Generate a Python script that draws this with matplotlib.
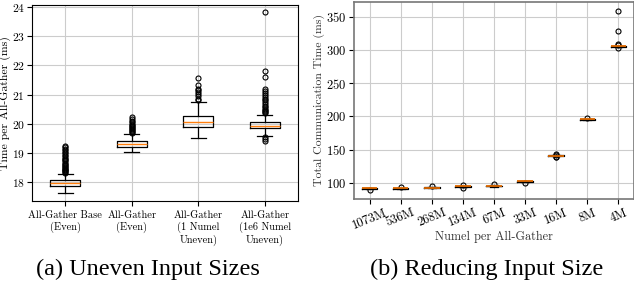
import matplotlib
matplotlib.use("Agg")
import matplotlib.pyplot as plt

plt.rcParams['font.family'] = ['cmr10', 'DejaVu Serif']
plt.rcParams['axes.formatter.use_mathtext'] = True
plt.rcParams['mathtext.fontset'] = 'cm'

# ---- Panel (a): Uneven input sizes ----
a_labels = ["All-Gather Base\n(Even)", "All-Gather\n(Even)",
            "All-Gather\n(1 Numel\nUneven)", "All-Gather\n(1e6 Numel\nUneven)"]
a_med = [17.95, 19.29, 20.04, 19.93]
a_q1 = [17.87, 19.20, 19.88, 19.85]
a_q3 = [18.05, 19.39, 20.25, 20.04]
a_lo = [17.63, 19.03, 19.51, 19.58]
a_hi = [18.28, 19.65, 20.75, 20.31]
a_fl1 = [18.30, 18.33, 18.36, 18.39, 18.42, 18.45, 18.48, 18.52, 18.55, 18.58,
         18.62, 18.66, 18.70, 18.74, 18.78, 18.83, 18.88, 18.93, 18.98, 19.03,
         19.08, 19.13, 19.18, 19.22]
a_fl2 = [19.68, 19.71, 19.74, 19.77, 19.80, 19.84, 19.88, 19.92, 19.96, 20.00,
         20.05, 20.10, 20.17, 20.24]
a_fl3 = [20.80, 20.86, 20.95, 21.02, 21.10, 21.14, 21.20, 21.33, 21.58]
a_fl4 = [19.55, 19.47, 19.42, 20.35, 20.39, 20.43, 20.47, 20.52, 20.57, 20.62,
         20.68, 20.74, 20.80, 20.86, 20.92, 20.98, 21.05, 21.12, 21.18, 21.60,
         21.80, 23.84]
a_fliers = [a_fl1, a_fl2, a_fl3, a_fl4]

# ---- Panel (b): Reducing input size ----
b_labels = ["1073M", "536M", "268M", "134M", "67M", "33M", "16M", "8M", "4M"]
b_med = [92.0, 92.0, 93.0, 95.0, 95.5, 102.5, 141.0, 195.5, 305.5]
b_q1 = [91.5, 91.5, 92.5, 94.5, 95.0, 102.0, 140.5, 195.0, 305.0]
b_q3 = [92.5, 92.5, 93.5, 95.5, 96.0, 103.0, 141.5, 196.0, 306.0]
b_lo = [91.0, 91.0, 92.0, 94.0, 94.5, 101.5, 140.0, 194.5, 304.5]
b_hi = [93.0, 93.0, 94.0, 96.0, 96.5, 103.5, 142.0, 196.5, 306.5]
b_fliers = [[89.5], [94.0], [96.0], [97.0, 92.0], [98.0], [100.5],
            [139.0, 138.5, 143.0, 142.5], [197.0], [303.5, 308.0, 309.0, 328.5, 358.5]]


def stats(med, q1, q3, lo, hi, fl, labels):
    out = []
    for i in range(len(med)):
        out.append(dict(med=med[i], q1=q1[i], q3=q3[i], whislo=lo[i],
                        whishi=hi[i], fliers=fl[i], label=labels[i]))
    return out


fig = plt.figure(figsize=(6.34, 2.84), dpi=100)
ax1 = fig.add_axes([32/634, 1-201/284, 266/634, 196/284])
ax2 = fig.add_axes([354/634, 1-199/284, 280/634, 197/284])

flierprops = dict(marker='o', markersize=3.6, markerfacecolor='none',
                  markeredgecolor='black', markeredgewidth=0.8)
boxprops = dict(color='black', linewidth=0.9)
whiskerprops = dict(color='black', linewidth=0.9)
capprops = dict(color='black', linewidth=0.9)
medianprops = dict(color='#ff7f0e', linewidth=1.0)

ax1.bxp(stats(a_med, a_q1, a_q3, a_lo, a_hi, a_fliers, a_labels),
        flierprops=flierprops, boxprops=boxprops, whiskerprops=whiskerprops,
        capprops=capprops, medianprops=medianprops)
ax1.set_ylim(17.34, 24.08)
ax1.set_ylabel("Time per All-Gather (ms)", fontsize=8.5)
ax1.yaxis.set_label_coords(-0.08, 0.5)
ax1.tick_params(axis='x', labelsize=7.5)
ax1.tick_params(axis='y', labelsize=8.3, pad=1.5)
ax1.grid(True, color='#cccccc', linewidth=0.8)
ax1.set_axisbelow(True)

ax2.bxp(stats(b_med, b_q1, b_q3, b_lo, b_hi, b_fliers, b_labels),
        flierprops=flierprops, boxprops=boxprops, whiskerprops=whiskerprops,
        capprops=capprops, medianprops=dict(color='#e06a00', linewidth=1.3))
ax2.set_ylabel("Total Communication Time (ms)", fontsize=8.5, color='#333333')
ax2.yaxis.set_label_coords(-0.104, 0.5)
ax2.set_xlabel("Numel per All-Gather", fontsize=8.8, color='#333333')
ax2.xaxis.set_label_coords(0.5, -0.16)
ax2.tick_params(labelsize=9, pad=2)
ax2.set_yticks([100, 150, 200, 250, 300, 350])
for lab in ax2.get_xticklabels():
    lab.set_rotation(22)
ax2.grid(True, color='#cccccc', linewidth=0.8)
ax2.set_axisbelow(True)
for s in ax2.spines.values():
    s.set_color('#777777')
    s.set_linewidth(1.2)

fig.text(148/634, 1-269/284, "(a) Uneven Input Sizes", ha='center', va='center',
         fontsize=17.5, family='Liberation Serif')
fig.text(487/634, 1-269/284, "(b) Reducing Input Size", ha='center', va='center',
         fontsize=17.5, family='Liberation Serif')

fig.savefig("out.png", dpi=100)
